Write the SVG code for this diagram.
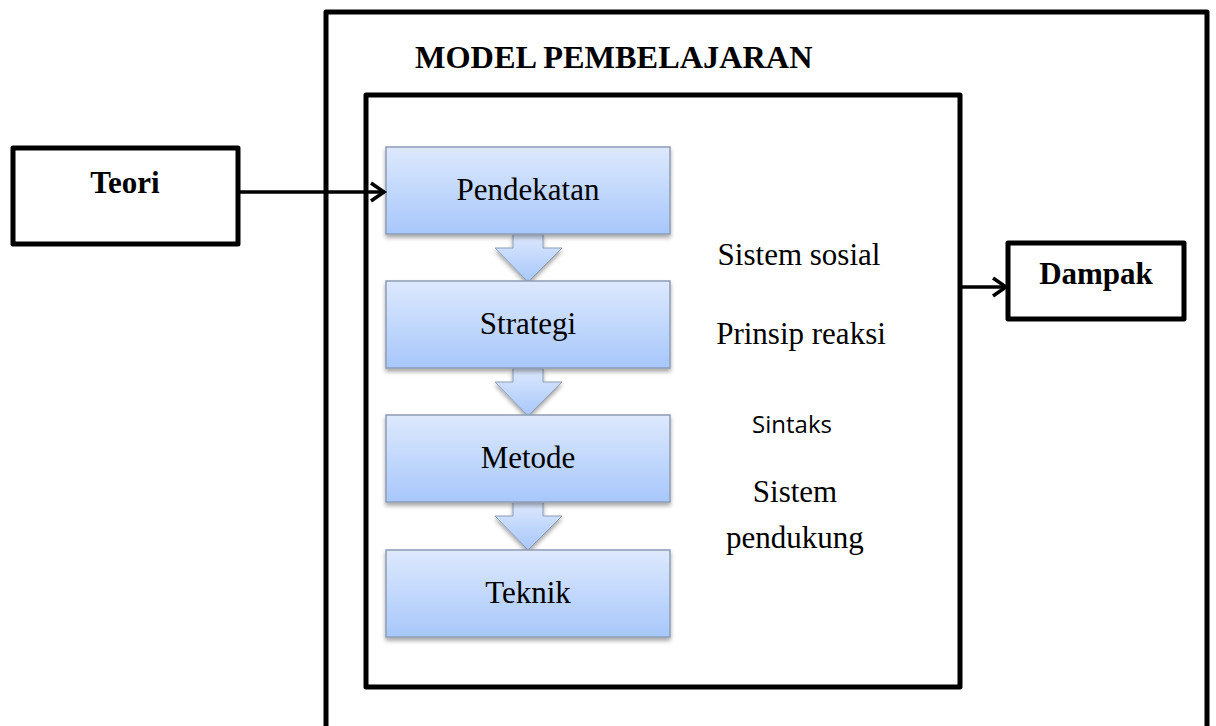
<svg xmlns="http://www.w3.org/2000/svg" width="1216" height="726" viewBox="0 0 1216 726">
<defs>
<linearGradient id="blueGrad" x1="0" y1="0" x2="0" y2="1">
<stop offset="0" stop-color="#dde9fd"/>
<stop offset="1" stop-color="#a7c7fb"/>
</linearGradient>
<filter id="shadow" x="-10%" y="-10%" width="120%" height="130%">
<feDropShadow dx="0" dy="3" stdDeviation="2" flood-color="#000" flood-opacity="0.35"/>
</filter>
</defs>
<style>
.frame{fill:#fff;stroke:#000;stroke-width:5;stroke-linejoin:round}
.frameNoFill{fill:none;stroke:#000;stroke-width:5;stroke-linejoin:round}
.step{fill:url(#blueGrad);stroke:#8d9cb5;stroke-width:1.5;filter:url(#shadow)}
.barrow{fill:url(#blueGrad);stroke:#8d9cb5;stroke-width:1;filter:url(#shadow)}
.conn{fill:none;stroke:#000;stroke-width:3.5}
.serif{font-family:"Liberation Serif","Times New Roman",serif;fill:#000}
.bold{font-weight:bold}
.lbl{font-size:31px}
.sans{font-family:"Open Sans","Liberation Sans",sans-serif;font-size:24px;fill:#000}
</style>
<rect width="1216" height="726" fill="#fff"/>
<g id="outer-model">
<path class="frameNoFill" d="M326,740 L326,12 L1207,12 L1207,740"/>
<text class="serif bold" x="415" y="68" font-size="32.3">MODEL PEMBELAJARAN</text>
</g>
<g id="inner-box">
<rect class="frame" x="366" y="95" width="594" height="592"/>
</g>
<g id="teori">
<rect class="frame" x="13" y="148" width="225" height="96"/>
<text class="serif bold lbl" x="125" y="193" text-anchor="middle">Teori</text>
</g>
<g id="dampak">
<rect class="frame" x="1008" y="243" width="176" height="76"/>
<text class="serif bold lbl" x="1096" y="284" text-anchor="middle">Dampak</text>
</g>
<g id="block-arrows">
<path class="barrow" d="M513,234 L543,234 L543,248 L562,248 L528,282 L495,248 L513,248 Z"/>
<path class="barrow" d="M513,368 L543,368 L543,382 L562,382 L528,416 L495,382 L513,382 Z"/>
<path class="barrow" d="M513,502 L543,502 L543,516 L562,516 L528,550 L495,516 L513,516 Z"/>
</g>
<g id="pendekatan">
<rect class="step" x="386" y="147" width="284" height="87"/>
<text class="serif lbl" x="528" y="200" text-anchor="middle">Pendekatan</text>
</g>
<g id="strategi">
<rect class="step" x="386" y="281" width="284" height="87"/>
<text class="serif lbl" x="528" y="334" text-anchor="middle">Strategi</text>
</g>
<g id="metode">
<rect class="step" x="386" y="415" width="284" height="87"/>
<text class="serif lbl" x="528" y="468" text-anchor="middle">Metode</text>
</g>
<g id="teknik">
<rect class="step" x="386" y="550" width="284" height="87"/>
<text class="serif lbl" x="528" y="603" text-anchor="middle">Teknik</text>
</g>
<g id="components">
<text class="serif lbl" x="799" y="265" text-anchor="middle">Sistem sosial</text>
<text class="serif lbl" x="801" y="344" text-anchor="middle">Prinsip reaksi</text>
<text class="sans" x="792" y="433" text-anchor="middle">Sintaks</text>
<text class="serif lbl" x="795" y="502" text-anchor="middle">Sistem</text>
<text class="serif lbl" x="795" y="548" text-anchor="middle">pendukung</text>
</g>
<g id="connectors">
<line class="conn" x1="238" y1="192" x2="383" y2="192"/>
<polyline class="conn" points="371,183 384,192 371,201"/>
<line class="conn" x1="962" y1="287" x2="1005" y2="287"/>
<polyline class="conn" points="993,278 1006,287 993,296"/>
</g>
</svg>
